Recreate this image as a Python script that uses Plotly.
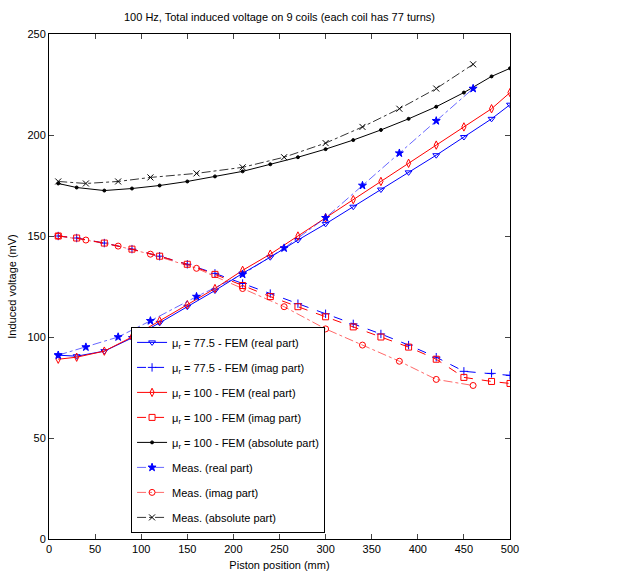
import plotly.graph_objects as go

# FEM piston positions (mm)
fem_x = [10, 30, 60, 90, 120, 150, 180, 210, 240, 270, 300, 330, 360, 390, 420, 450, 480, 500]
fem775_real = [91, 90.5, 93, 99.5, 107, 115, 123, 131.5, 139.5, 148, 156, 164.5, 173, 181.5, 190, 199, 208, 215]
fem775_imag = [150, 149, 146.5, 143.5, 140, 136, 131.5, 126.5, 121.5, 116.5, 111.5, 106.5, 101.5, 96, 90, 83, 82, 81]
fem100_real = [89, 90, 93, 100, 108, 116, 124, 133, 141, 150, 159, 168, 177, 186, 195, 204, 213, 221]
fem100_imag = [150, 149, 146.5, 143.5, 140, 136, 131, 125.5, 120, 115, 110, 105, 100, 95, 89, 80, 78, 77]
fem100_abs = [176, 174, 172.5, 173.5, 175, 177, 179.5, 182, 185.5, 189, 193, 197.5, 202.5, 208, 214, 221, 229, 233]

# Measurement positions (mm)
meas_x = [10, 40, 75, 110, 160, 210, 255, 300, 340, 380, 420, 460]
meas_real = [91, 95, 100, 108, 120, 131, 144, 159, 175, 191, 207, 223]
meas_imag = [150, 148, 145, 141, 134, 124, 115, 104, 96, 88, 79, 76]
meas_abs = [177, 176, 177, 179, 181, 184, 189, 196, 204, 213, 223, 235]

x_ticks = [0, 50, 100, 150, 200, 250, 300, 350, 400, 450, 500]
y_ticks = [0, 50, 100, 150, 200, 250]

BLUE = "rgb(0,0,255)"
RED = "rgb(255,0,0)"
BLACK = "rgb(0,0,0)"
FONT = "Liberation Sans, Arial, sans-serif"

series = [
    (fem_x, fem775_real, "μ<sub>r</sub> = 77.5 - FEM (real part)", BLUE, "solid", "triangle-down-open", 1.0),
    (fem_x, fem775_imag, "μ<sub>r</sub> = 77.5 - FEM (imag part)", BLUE, "dash", "cross-thin-open", 1.0),
    (fem_x, fem100_real, "μ<sub>r</sub> = 100 - FEM (real part)", RED, "solid", "diamond-tall-open", 1.0),
    (fem_x, fem100_imag, "μ<sub>r</sub> = 100 - FEM (imag part)", RED, "dash", "square-open", 1.0),
    (fem_x, fem100_abs, "μ<sub>r</sub> = 100 - FEM (absolute part)", BLACK, "solid", "circle", 1.0),
    (meas_x, meas_real, "Meas. (real part)", BLUE, "dashdot", "star", 0.6),
    (meas_x, meas_imag, "Meas. (imag part)", RED, "dashdot", "circle-open", 0.6),
    (meas_x, meas_abs, "Meas. (absolute part)", BLACK, "dashdot", "x-thin-open", 0.8),
]

fig = go.Figure()
for i, (xs, ys, name, col, dash, sym, lw) in enumerate(series):
    msize = 3 if sym == "circle" else 6
    fig.add_trace(go.Scatter(
        x=xs, y=ys, name=name, mode="lines+markers",
        line=dict(color=col, width=lw, dash=dash),
        marker=dict(symbol=sym, size=msize, color=col, line=dict(color=col, width=1)),
        legendgroup=f"g{i}",
    ))

fig.update_layout(
    width=633, height=575,
    margin=dict(l=49, r=123, t=34, b=36, autoexpand=False),
    paper_bgcolor="white", plot_bgcolor="white",
    font=dict(family=FONT, size=11, color="black"),
    title=dict(text="100 Hz, Total induced voltage on 9 coils (each coil has 77 turns)",
               x=0.5, xanchor="center", xref="paper", y=0.97, yanchor="middle",
               font=dict(size=11, family=FONT, color="black")),
    showlegend=True,
    legend=dict(x=0.178, y=0.42, xanchor="left", yanchor="top",
                bordercolor="black", borderwidth=1, bgcolor="white",
                font=dict(size=11, family=FONT), tracegroupgap=6,
                itemwidth=30),
)
fig.update_xaxes(range=[0, 500], tickvals=x_ticks, ticks="inside", ticklen=5,
                 showline=True, linecolor="black", linewidth=1, mirror="ticks",
                 showgrid=False, zeroline=False,
                 title=dict(text="Piston position (mm)", standoff=7, font=dict(size=11)))
fig.update_yaxes(range=[0, 250], tickvals=y_ticks, ticks="inside", ticklen=5,
                 showline=True, linecolor="black", linewidth=1, mirror="ticks",
                 showgrid=False, zeroline=False,
                 title=dict(text="Induced voltage (mV)", standoff=8, font=dict(size=11)))

fig.write_html("out.html")
